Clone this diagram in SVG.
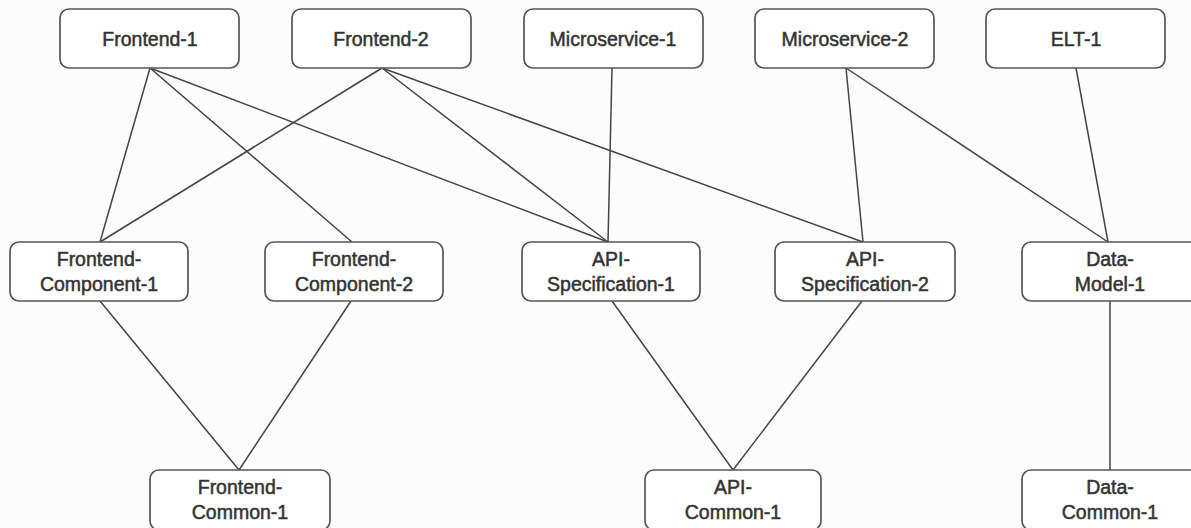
<svg xmlns="http://www.w3.org/2000/svg" width="1191" height="528" viewBox="0 0 1191 528">
<style>
.box{fill:#ffffff;stroke:#555555;stroke-width:1.7}
.lbl{font-family:"Liberation Sans",Arial,sans-serif;font-size:19.5px;fill:#333333;stroke:#333333;stroke-width:0.5;text-anchor:middle}
.edge{stroke:#444444;stroke-width:1.5;fill:none}
</style>
<rect width="1191" height="528" fill="#fcfcfd"/>
<g id="connectors">
<line class="edge" x1="150" y1="68" x2="100" y2="242"/>
<line class="edge" x1="150" y1="68" x2="352" y2="242"/>
<line class="edge" x1="150" y1="68" x2="608" y2="242"/>
<line class="edge" x1="382" y1="68" x2="100" y2="242"/>
<line class="edge" x1="382" y1="68" x2="608" y2="242"/>
<line class="edge" x1="382" y1="68" x2="863" y2="242"/>
<line class="edge" x1="612" y1="68" x2="608" y2="242"/>
<line class="edge" x1="846" y1="68" x2="863" y2="242"/>
<line class="edge" x1="846" y1="68" x2="1108" y2="242"/>
<line class="edge" x1="1076" y1="68" x2="1108" y2="242"/>
<line class="edge" x1="100" y1="301" x2="239" y2="470"/>
<line class="edge" x1="351" y1="301" x2="239" y2="470"/>
<line class="edge" x1="612" y1="301" x2="733" y2="470"/>
<line class="edge" x1="862" y1="301" x2="733" y2="470"/>
<line class="edge" x1="1110" y1="301" x2="1110" y2="470"/>
</g>
<g id="frontend-1"><rect class="box" x="60" y="9" width="179" height="59" rx="9"/><text class="lbl" x="150" y="46">Frontend-1</text></g>
<g id="frontend-2"><rect class="box" x="292" y="9" width="179" height="59" rx="9"/><text class="lbl" x="381" y="46">Frontend-2</text></g>
<g id="microservice-1"><rect class="box" x="524" y="9" width="179" height="59" rx="9"/><text class="lbl" x="613" y="46">Microservice-1</text></g>
<g id="microservice-2"><rect class="box" x="755" y="9" width="179" height="59" rx="9"/><text class="lbl" x="845" y="46">Microservice-2</text></g>
<g id="elt-1"><rect class="box" x="986" y="9" width="179" height="59" rx="9"/><text class="lbl" x="1076" y="46">ELT-1</text></g>
<g id="frontend-component-1"><rect class="box" x="10" y="242" width="178" height="59" rx="9"/><text class="lbl" x="99" y="266">Frontend-</text><text class="lbl" x="99" y="291">Component-1</text></g>
<g id="frontend-component-2"><rect class="box" x="265" y="242" width="178" height="59" rx="9"/><text class="lbl" x="354" y="266">Frontend-</text><text class="lbl" x="354" y="291">Component-2</text></g>
<g id="api-specification-1"><rect class="box" x="522" y="242" width="178" height="59" rx="9"/><text class="lbl" x="611" y="266">API-</text><text class="lbl" x="611" y="291">Specification-1</text></g>
<g id="api-specification-2"><rect class="box" x="775" y="242" width="180" height="59" rx="9"/><text class="lbl" x="865" y="266">API-</text><text class="lbl" x="865" y="291">Specification-2</text></g>
<g id="data-model-1"><rect class="box" x="1022" y="242" width="178" height="59" rx="9"/><text class="lbl" x="1110" y="266">Data-</text><text class="lbl" x="1110" y="291">Model-1</text></g>
<g id="frontend-common-1"><rect class="box" x="150" y="470" width="180" height="60" rx="9"/><text class="lbl" x="240" y="494">Frontend-</text><text class="lbl" x="240" y="519">Common-1</text></g>
<g id="api-common-1"><rect class="box" x="645" y="470" width="176" height="60" rx="9"/><text class="lbl" x="733" y="494">API-</text><text class="lbl" x="733" y="519">Common-1</text></g>
<g id="data-common-1"><rect class="box" x="1022" y="470" width="178" height="60" rx="9"/><text class="lbl" x="1110" y="494">Data-</text><text class="lbl" x="1110" y="519">Common-1</text></g>
</svg>
